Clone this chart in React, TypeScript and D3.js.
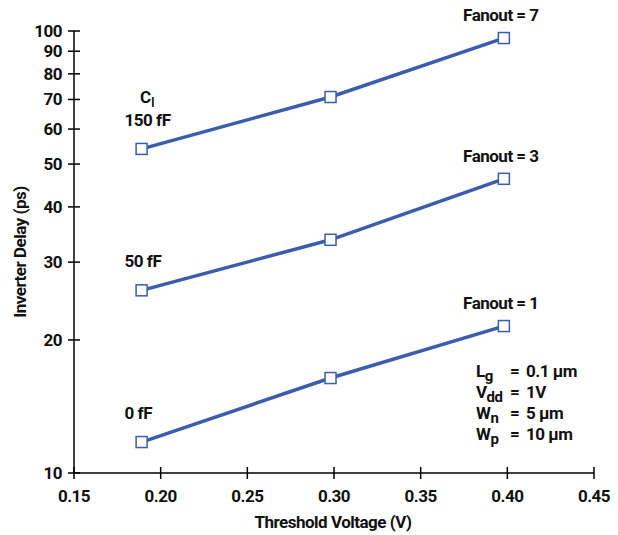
import React from 'react';
import * as d3 from 'd3';

const voltages = [0.189, 0.298, 0.398];
const delay150 = [54.1, 70.9, 96.4];
const delay50 = [25.9, 33.7, 46.3];
const delay0 = [11.75, 16.4, 21.5];
const xTicks = [0.15, 0.2, 0.25, 0.3, 0.35, 0.4, 0.45];
const yTicks = [10, 20, 30, 40, 50, 60, 70, 80, 90, 100];
const fanoutLabels = ['Fanout = 7', 'Fanout = 3', 'Fanout = 1'];
const loadLabels = ['150 fF', '50 fF', '0 fF'];

const font = 'Roboto, "DejaVu Sans Condensed", sans-serif';
const blue = '#3a5dae';

const x = d3.scaleLinear().domain([0.15, 0.45]).range([74, 594]);
const y = d3.scaleLog().domain([10, 100]).range([473, 31]);

const series = [delay150, delay50, delay0];

const line = d3
  .line<number>()
  .x((d, i) => x(voltages[i]))
  .y((d) => y(d));

export default function App() {
  return (
    <svg width={618} height={535} style={{ display: 'block', margin: '-8px 0 0 -8px' }}>
      <g fontFamily={font} fontWeight="bold" fill="#111">
        {/* axes */}
        <line x1={74} x2={74} y1={y(100)} y2={y(10)} stroke="#000" strokeWidth={1.5} />
        <line x1={x(0.15)} x2={x(0.45)} y1={473} y2={473} stroke="#000" strokeWidth={1.5} />
        {yTicks.map((t) => (
          <g key={t}>
            <line x1={68} x2={80} y1={y(t)} y2={y(t)} stroke="#000" strokeWidth={1.5} />
            <text x={62} y={y(t) + 6} textAnchor="end" fontSize={17} letterSpacing={-0.5}>
              {t}
            </text>
          </g>
        ))}
        {xTicks.map((t) => (
          <g key={t}>
            <line x1={x(t)} x2={x(t)} y1={467} y2={479} stroke="#000" strokeWidth={1.5} />
            <text x={x(t)} y={502} textAnchor="middle" fontSize={17} letterSpacing={-0.5}>
              {t.toFixed(2)}
            </text>
          </g>
        ))}
        <text x={333} y={528} textAnchor="middle" fontSize={17} letterSpacing={-0.5}>
          Threshold Voltage (V)
        </text>
        <text
          transform="translate(26,252) rotate(-90)"
          textAnchor="middle"
          fontSize={17}
          letterSpacing={-0.5}
        >
          Inverter Delay (ps)
        </text>

        {/* series */}
        {series.map((s, k) => (
          <g key={k}>
            <path d={line(s) || ''} fill="none" stroke={blue} strokeWidth={3.5} />
            {s.map((v, i) => (
              <rect
                key={i}
                x={x(voltages[i]) - 5.5}
                y={y(v) - 5.5}
                width={11}
                height={11}
                fill="#fff"
                stroke={blue}
                strokeWidth={1.5}
              />
            ))}
            <text
              x={x(voltages[2]) - 3}
              y={y(s[2]) - 17}
              textAnchor="middle"
              fontSize={17}
              letterSpacing={-0.5}
            >
              {fanoutLabels[k]}
            </text>
            <text x={x(voltages[0]) - 17} y={y(s[0]) - 23} fontSize={17} letterSpacing={-0.5}>
              {loadLabels[k]}
            </text>
          </g>
        ))}
        <text x={140} y={103} fontSize={17}>
          C<tspan fontSize={12} dy={4}>l</tspan>
        </text>

        {/* parameters */}
        <g fontSize={17} letterSpacing={-0.5}>
          <text x={476} y={377}>
            L<tspan fontSize={15} dy={4}>g</tspan>
          </text>
          <text x={476} y={398}>
            V<tspan fontSize={15} dy={4}>dd</tspan>
          </text>
          <text x={476} y={419}>
            W<tspan fontSize={15} dy={4}>n</tspan>
          </text>
          <text x={476} y={440}>
            W<tspan fontSize={15} dy={4}>p</tspan>
          </text>
          {['= ', '= ', '= ', '= '].map((eq, i) => (
            <text key={i} x={510} y={377 + i * 21}>
              {eq}
            </text>
          ))}
          <text x={526} y={377}>0.1 µm</text>
          <text x={526} y={398}>1V</text>
          <text x={526} y={419}>5 µm</text>
          <text x={526} y={440}>10 µm</text>
        </g>
      </g>
    </svg>
  );
}
